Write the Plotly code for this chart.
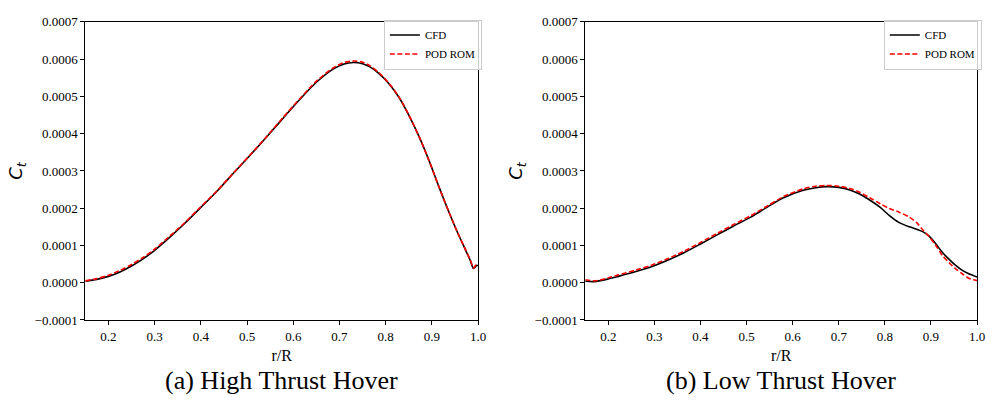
import plotly.graph_objects as go

# ---------------- data ----------------
r_high = [0.15, 0.175, 0.2, 0.225, 0.25, 0.275, 0.3, 0.33, 0.365, 0.40, 0.436, 0.47, 0.508,
          0.545, 0.579, 0.615, 0.65, 0.687, 0.71, 0.73, 0.75, 0.765, 0.785, 0.808,
          0.83, 0.851, 0.873, 0.894, 0.915, 0.937, 0.955, 0.973, 0.983, 0.99, 0.994,
          0.997, 1.0]
ct_high_cfd = [0.04e-4, 0.09e-4, 0.17e-4, 0.29e-4, 0.45e-4, 0.64e-4, 0.87e-4, 1.19e-4,
               1.59e-4, 2.02e-4, 2.47e-4, 2.93e-4, 3.44e-4, 3.95e-4, 4.43e-4, 4.93e-4,
               5.38e-4, 5.74e-4, 5.87e-4, 5.91e-4, 5.88e-4, 5.80e-4, 5.62e-4, 5.33e-4,
               4.95e-4, 4.47e-4, 3.90e-4, 3.27e-4, 2.58e-4, 1.89e-4, 1.36e-4, 0.87e-4,
               0.60e-4, 0.38e-4, 0.42e-4, 0.47e-4, 0.45e-4]
ct_high_rom = [0.05e-4, 0.11e-4, 0.20e-4, 0.33e-4, 0.49e-4, 0.68e-4, 0.90e-4, 1.22e-4,
               1.61e-4, 2.04e-4, 2.48e-4, 2.94e-4, 3.45e-4, 3.96e-4, 4.45e-4, 4.95e-4,
               5.41e-4, 5.77e-4, 5.91e-4, 5.95e-4, 5.92e-4, 5.83e-4, 5.64e-4, 5.34e-4,
               4.96e-4, 4.48e-4, 3.90e-4, 3.27e-4, 2.58e-4, 1.89e-4, 1.36e-4, 0.88e-4,
               0.61e-4, 0.39e-4, 0.46e-4, 0.48e-4, 0.47e-4]

r_low = [0.15, 0.17, 0.2, 0.222, 0.26, 0.2935, 0.33, 0.365, 0.40, 0.437, 0.47, 0.509,
         0.545, 0.58, 0.623, 0.65, 0.674, 0.70, 0.724, 0.745, 0.767, 0.79, 0.81, 0.83,
         0.853, 0.87, 0.882, 0.896, 0.91, 0.925, 0.94, 0.953, 0.968, 0.982, 0.992, 1.0]
ct_low_cfd = [0.04e-4, 0.03e-4, 0.10e-4, 0.17e-4, 0.30e-4, 0.43e-4, 0.61e-4, 0.81e-4,
              1.04e-4, 1.29e-4, 1.51e-4, 1.76e-4, 2.03e-4, 2.28e-4, 2.48e-4, 2.55e-4,
              2.58e-4, 2.56e-4, 2.49e-4, 2.38e-4, 2.22e-4, 2.02e-4, 1.80e-4, 1.62e-4,
              1.50e-4, 1.43e-4, 1.37e-4, 1.25e-4, 1.05e-4, 0.81e-4, 0.62e-4, 0.47e-4,
              0.33e-4, 0.24e-4, 0.19e-4, 0.15e-4]
ct_low_rom = [0.08e-4, 0.05e-4, 0.13e-4, 0.21e-4, 0.34e-4, 0.47e-4, 0.65e-4, 0.85e-4,
              1.08e-4, 1.33e-4, 1.55e-4, 1.80e-4, 2.06e-4, 2.31e-4, 2.52e-4, 2.59e-4,
              2.61e-4, 2.59e-4, 2.53e-4, 2.43e-4, 2.28e-4, 2.12e-4, 1.99e-4, 1.90e-4,
              1.76e-4, 1.60e-4, 1.42e-4, 1.24e-4, 1.01e-4, 0.73e-4, 0.53e-4, 0.38e-4,
              0.24e-4, 0.12e-4, 0.08e-4, 0.06e-4]

x_ticks = [0.2, 0.3, 0.4, 0.5, 0.6, 0.7, 0.8, 0.9, 1.0]
y_ticks = [-0.0001, 0.0, 0.0001, 0.0002, 0.0003, 0.0004, 0.0005, 0.0006, 0.0007]
series_names = ["CFD", "POD ROM"]
subtitles = ["(a) High Thrust Hover", "(b) Low Thrust Hover"]

# ---------------- figure ----------------
W, H = 994, 405
SERIF = "Liberation Serif, Times New Roman, serif"

fig = go.Figure()

panels = [
    (r_high, ct_high_cfd, ct_high_rom, "x", "y", "legend"),
    (r_low, ct_low_cfd, ct_low_rom, "x2", "y2", "legend2"),
]
for r, cfd, rom, xa, ya, lg in panels:
    fig.add_trace(go.Scatter(x=r, y=cfd, mode="lines", name=series_names[0],
                             line=dict(color="black", width=1.6, shape="spline", smoothing=0.8),
                             xaxis=xa, yaxis=ya, legend=lg))
    fig.add_trace(go.Scatter(x=r, y=rom, mode="lines", name=series_names[1],
                             line=dict(color="#ff0000", width=1.6, dash="5px,2.5px",
                                       shape="spline", smoothing=0.8),
                             xaxis=xa, yaxis=ya, legend=lg))

x_dom = [[86 / W, 482 / W], [590 / W, 985 / W]]
y_dom = [1 - 325 / H, 1 - 15.5 / H]

axis_common = dict(showgrid=False, zeroline=False, showline=True, linecolor="black",
                   linewidth=1, mirror=True, ticks="outside", ticklen=4, tickwidth=1,
                   tickcolor="black", tickfont=dict(family=SERIF, size=13, color="black"))

for i in range(2):
    xk = "xaxis" if i == 0 else "xaxis2"
    yk = "yaxis" if i == 0 else "yaxis2"
    fig.update_layout(**{
        xk: dict(axis_common, domain=x_dom[i], range=[0.15, 1.0], tickvals=x_ticks,
                 tickformat=".1f", anchor="y" if i == 0 else "y2",
                 title=dict(text="r/R", font=dict(family=SERIF, size=16, color="black"),
                            standoff=7)),
        yk: dict(axis_common, domain=y_dom, range=[-0.0001, 0.0007], tickvals=y_ticks,
                 tickformat=".4f", anchor="x" if i == 0 else "x2",
                 title=dict(text="<i>C</i><sub><i>t</i></sub>",
                            font=dict(family="DejaVu Sans", size=18, color="black"),
                            standoff=7)),
    })

legend_common = dict(bgcolor="rgba(255,255,255,0.8)", bordercolor="#cccccc", borderwidth=1,
                     font=dict(family=SERIF, size=11, color="black"),
                     xanchor="left", yanchor="top", tracegroupgap=0, itemwidth=30)
fig.update_layout(
    legend=dict(legend_common, x=387 / W, y=1 - 13 / H),
    legend2=dict(legend_common, x=891 / W, y=1 - 13 / H),
)

for i, txt in enumerate(subtitles):
    xc = (x_dom[i][0] + x_dom[i][1]) / 2
    fig.add_annotation(text=txt, x=xc, y=1 - 388 / H, xref="paper", yref="paper",
                       xanchor="center", yanchor="middle", showarrow=False,
                       font=dict(family=SERIF, size=26, color="black"))

fig.update_layout(width=W, height=H, margin=dict(l=0, r=0, t=0, b=0),
                  paper_bgcolor="white", plot_bgcolor="white", showlegend=True)

fig.write_html("out.html")
